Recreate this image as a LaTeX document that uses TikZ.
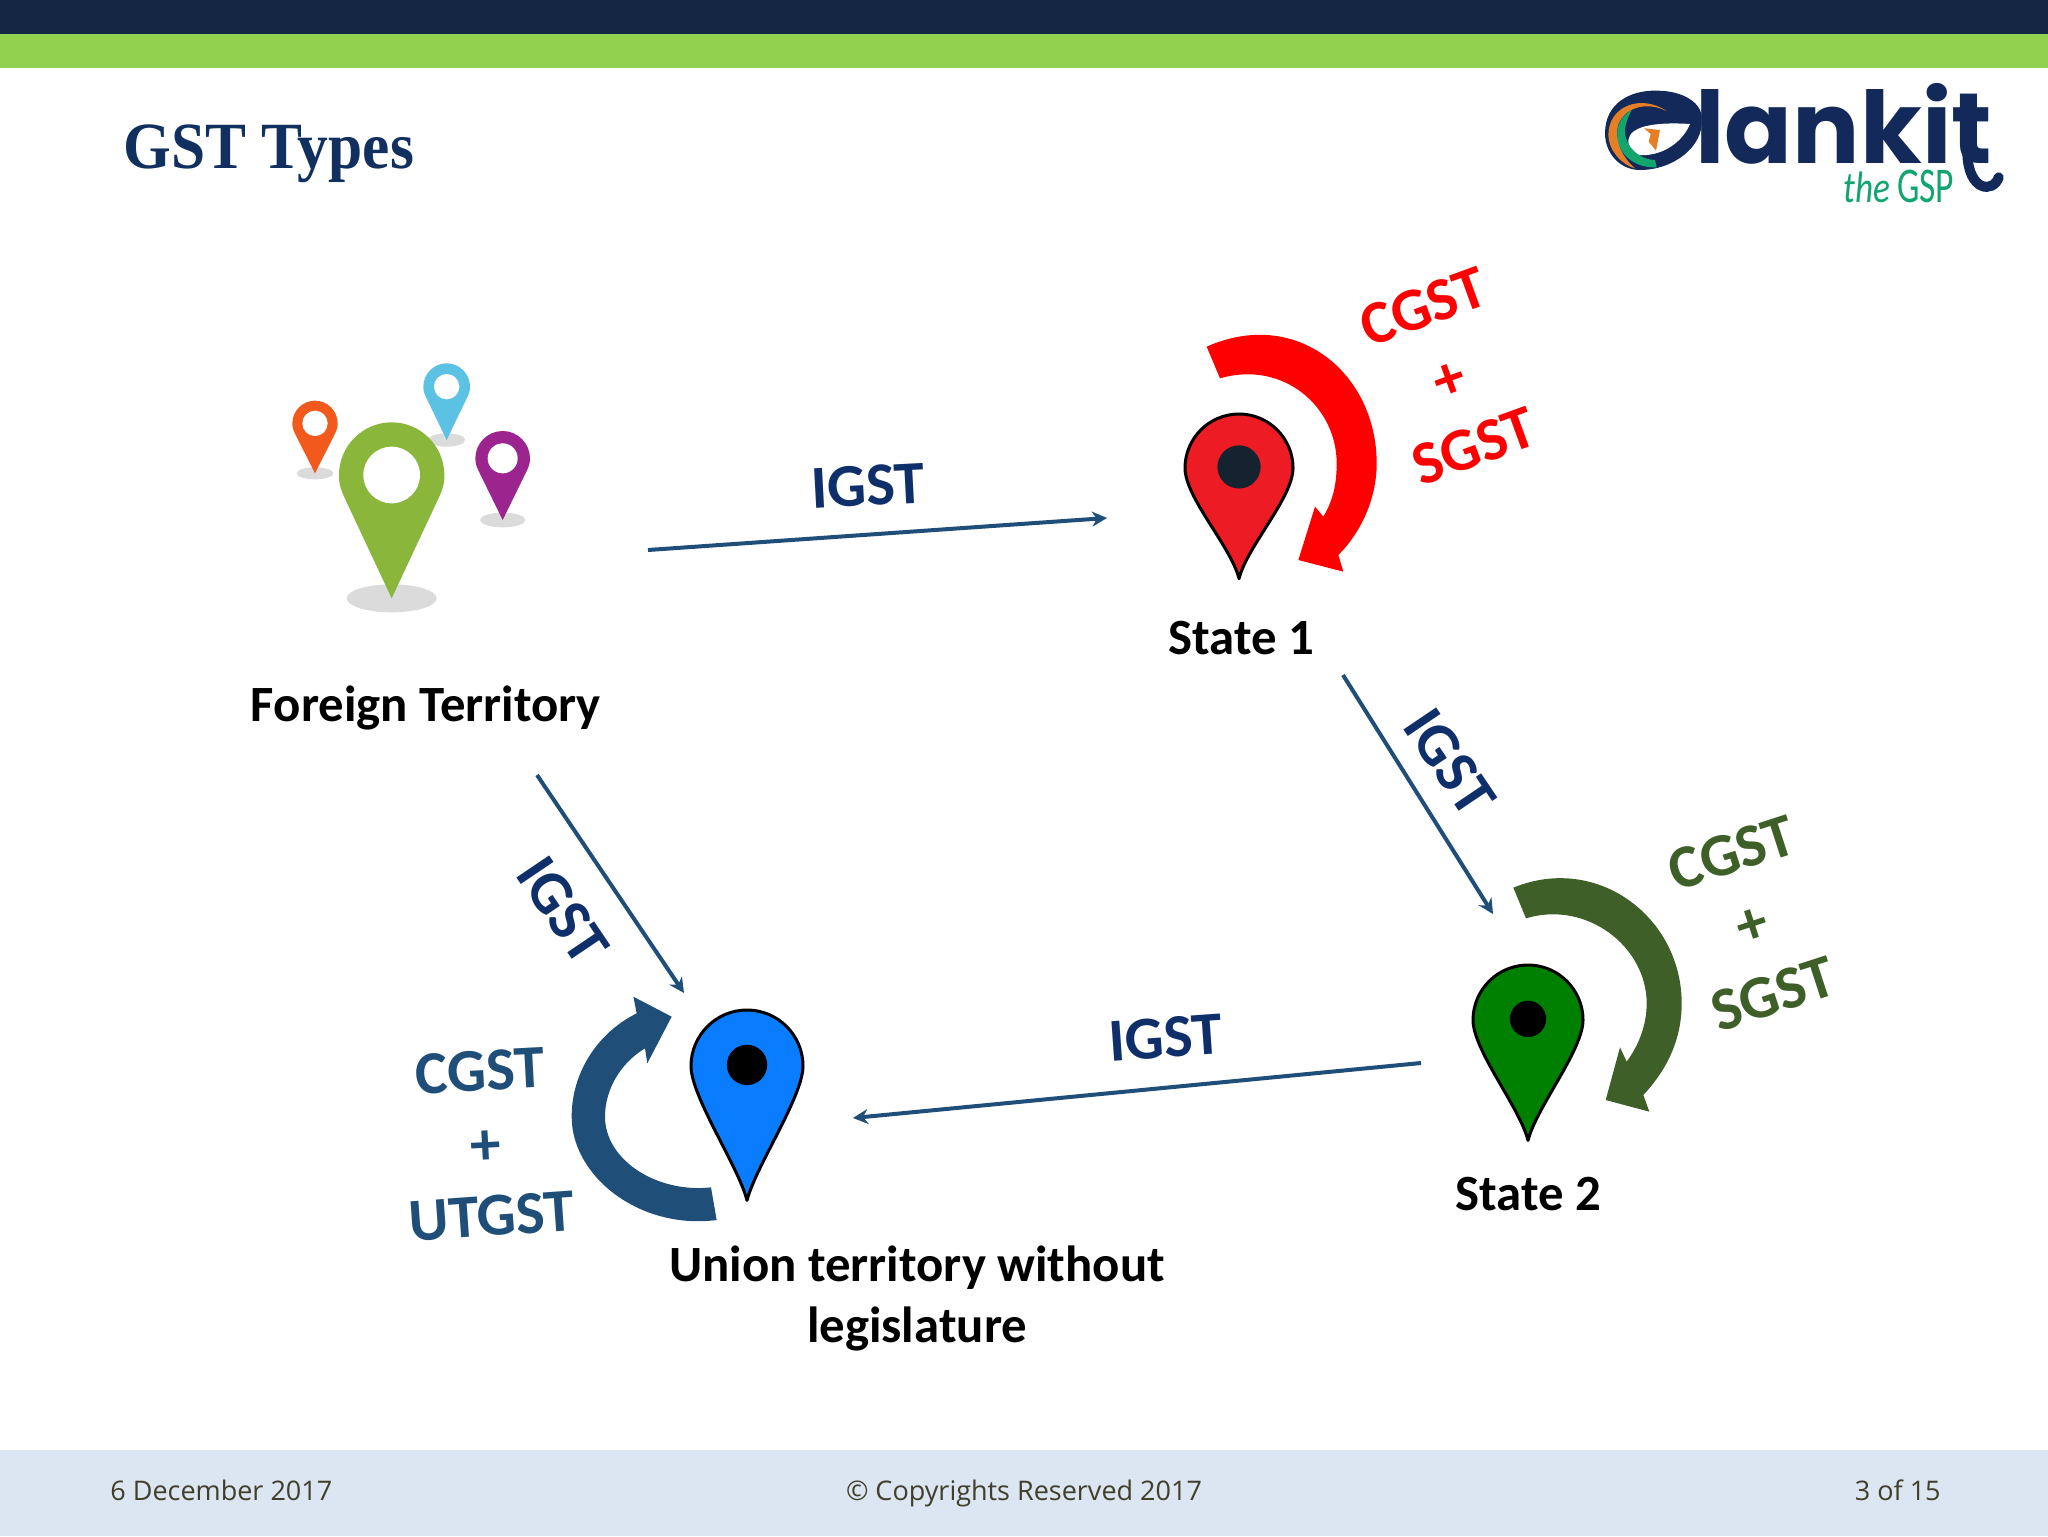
\documentclass[tikz,border=0pt]{standalone}
\usepackage{fontspec}
\setmainfont{Liberation Serif}
\newfontfamily\labelfont{Carlito}
\newfontfamily\footfont{Open Sans}
\newfontfamily\logofont{Poppins}
\usetikzlibrary{arrows.meta}
\definecolor{barnavy}{HTML}{142644}
\definecolor{bargreen}{HTML}{92D050}
\definecolor{footblue}{HTML}{DCE6F2}
\definecolor{foottext}{HTML}{3F3F2A}
\definecolor{titleblue}{HTML}{12305F}
\definecolor{igstblue}{HTML}{0F2F6B}
\definecolor{flowblue}{HTML}{1F4E79}
\definecolor{stategreen}{HTML}{3F5F28}
\definecolor{logonavy}{HTML}{12295A}
\definecolor{logoorange}{HTML}{E57E25}
\definecolor{logogreen}{HTML}{12A56E}
\definecolor{pinred}{HTML}{ED1C24}
\definecolor{pindark}{HTML}{14232F}
\definecolor{pingreen}{HTML}{008000}
\definecolor{pinblue}{HTML}{0A7CFF}
\tikzset{
  statelabel/.style={font=\labelfont\bfseries\fontsize{25.4}{30.5}\selectfont, text=black, align=center},
  igstlabel/.style={font=\labelfont\bfseries\fontsize{30.5}{36}\selectfont, text=igstblue},
  taxlabel/.style={font=\labelfont\bfseries\fontsize{30.5}{36}\selectfont},
  flowarrow/.style={draw=flowblue, line width=2pt, -{Stealth[length=7.5pt, width=7.5pt]}},
  footlabel/.style={font=\footfont\fontsize{13.5}{16}\selectfont, text=foottext, inner sep=0pt},
}
% #1,#2 head centre, #3 radius, #4 tip distance, #5 fill, #6 dot, #7 dot radius
\newcommand{\mappin}[7]{
  \begin{scope}[shift={(#1,#2)}, scale=#3]
    \draw[fill=#5, line width=1.5pt, line join=round] (0,#4) .. controls (-.15,#4-.6) and (-1,.55) .. (-1,0)
      .. controls (-1,-.55) and (-.55,-1) .. (0,-1) .. controls (.55,-1) and (1,-.55) .. (1,0)
      .. controls (1,.55) and (.15,#4-.6) .. (0,#4) -- cycle;
    \fill[#6] (0,-.02) circle (#7);
  \end{scope}
}
\begin{document}
\begin{tikzpicture}[x=.5pt, y=-.5pt]
\useasboundingbox (0,0) rectangle (2048,1536);
\fill[white] (0,0) rectangle (2048,1536);
\fill[barnavy] (0,0) rectangle (2048,34);
\fill[bargreen] (0,34) rectangle (2048,68);
\fill[footblue] (0,1450) rectangle (2048,1536);

\node[anchor=base west, inner sep=0pt, text=titleblue, font=\bfseries\fontsize{33}{36}\selectfont] (title) at (123,168) {\scalebox{.93}[1]{GST Types}};

% logo
\begin{scope}[shift={(1560,60)}, scale=1/3]
  \fill[logonavy] (135,220) .. controls (135,130) and (210,90) .. (290,92) .. controls (370,92) and (430,130) .. (425,180)
    .. controls (430,260) and (340,330) .. (240,330) .. controls (180,330) and (135,280) .. (135,220) -- cycle;
  \fill[white] (205,240) .. controls (210,200) and (280,185) .. (390,192) .. controls (370,240) and (320,280) .. (260,285)
    .. controls (215,290) and (205,270) .. (205,240) -- cycle;
  \fill[logoorange] (320,153) .. controls (240,100) and (145,140) .. (145,225) .. controls (145,270) and (185,315) .. (225,325)
    .. controls (185,290) and (170,250) .. (172,210) .. controls (175,160) and (240,115) .. (320,153) -- cycle;
  \fill[logogreen] (215,150) .. controls (180,170) and (170,200) .. (172,230) .. controls (175,280) and (220,325) .. (290,322)
    -- (285,300) .. controls (240,300) and (195,260) .. (195,215) .. controls (195,190) and (205,170) .. (215,150) -- cycle;
  \fill[logoorange] (252,205) -- (300,210) -- (288,272) -- (266,245) -- (272,222) -- cycle;
  \node[anchor=base west, inner sep=0pt, text=logonavy, font=\logofont\bfseries\fontsize{50}{50}\selectfont] (logoword) at (405,312) {lankit};
  \draw[logonavy, line width=5pt, line cap=round] (1222,280) .. controls (1225,395) and (1300,400) .. (1316,352);
  \node[anchor=base west, inner sep=0pt, text=logogreen, font=\labelfont\itshape\fontsize{22}{22}\selectfont] (logothe) at (850,428) {\scalebox{.8}[1]{the}};
  \node[anchor=base west, inner sep=0pt, text=logogreen, font=\labelfont\fontsize{25}{25}\selectfont] (logogsp) at (1010,428) {\scalebox{.71}[1]{GSP}};
\end{scope}

% foreign territory pins
\begin{scope}[shift={(260,340)}, scale=1/3]
  \foreach \px/\py/\pr/\ph/\pc/\rx/\ry/\hr in {165/250/68/150/F25A1D/55/18/38, 560/140/70/160/5BC2E4/55/20/38, 728/355/82/185/9C248E/68/22/45, 395/405/158/370/8AB63C/135/42/85} {
    \definecolor{pincol}{HTML}{\pc}
    \fill[black!14] (\px,\py+\ph) ellipse ({\rx} and {\ry});
    \fill[pincol] (\px,\py+\ph) -- (\px-.9*\pr,\py+.42*\pr) .. controls (\px-\pr,\py+.2*\pr) and (\px-\pr,\py+.1*\pr) .. (\px-\pr,\py)
      .. controls (\px-\pr,\py-.55*\pr) and (\px-.55*\pr,\py-\pr) .. (\px,\py-\pr) .. controls (\px+.55*\pr,\py-\pr) and (\px+\pr,\py-.55*\pr) .. (\px+\pr,\py)
      .. controls (\px+\pr,\py+.1*\pr) and (\px+\pr,\py+.2*\pr) .. (\px+.9*\pr,\py+.42*\pr) -- cycle;
    \fill[white] (\px,\py) circle (\hr);
  }
\end{scope}

\mappin{1239}{468}{54}{2.05}{pinred}{pindark}{.4}
\mappin{1528}{1020}{55}{2.19}{pingreen}{black}{.33}
\mappin{747}{1066}{56}{2.4}{pinblue}{black}{.36}

% red arc
\begin{scope}[shift={(1150,250)}, scale=1/3]
  \fill[red] (170,290) .. controls (440,170) and (680,370) .. (680,640) .. controls (680,750) and (630,850) .. (565,915)
    -- (580,965) -- (445,930) -- (495,770) -- (520,800) .. controls (550,750) and (560,700) .. (560,640)
    .. controls (560,470) and (400,330) .. (210,385) -- cycle;
\end{scope}
% green arc
\begin{scope}[shift={(1440,790)}, scale=1/3]
  \fill[stategreen] (220,293) .. controls (470,190) and (725,380) .. (725,640) .. controls (725,750) and (680,840) .. (610,915)
    -- (628,965) -- (497,930) -- (540,772) -- (560,815) .. controls (600,760) and (620,700) .. (620,640)
    .. controls (620,470) and (440,330) .. (258,385) -- cycle;
\end{scope}
% blue arc
\begin{scope}[shift={(390,960)}, scale=1/3]
  \fill[flowblue] (980,780) .. controls (750,810) and (545,650) .. (545,470) .. controls (545,340) and (620,220) .. (740,160)
    -- (730,110) -- (845,170) -- (772,310) -- (765,265) .. controls (690,310) and (645,390) .. (645,470)
    .. controls (645,600) and (800,700) .. (963,682) -- cycle;
\end{scope}

\node[statelabel] (foreign) at (426,708) {Foreign Territory};
\node[statelabel] (state1) at (1241,638) {State 1};
\node[statelabel] (state2) at (1528,1194) {State 2};
\node[statelabel] (union) at (917,1298) {Union territory without\\legislature};

\coordinate (a1s) at (648,550);
\coordinate (a1e) at (1107,518);
\coordinate (a2s) at (1343,675);
\coordinate (a2e) at (1493,914);
\coordinate (a3s) at (537,775);
\coordinate (a3e) at (684,993);
\coordinate (a4s) at (1421,1063);
\coordinate (a4e) at (853,1118);
\draw[flowarrow] (a1s) -- (a1e);
\draw[flowarrow] (a2s) -- (a2e);
\draw[flowarrow] (a3s) -- (a3e);
\draw[flowarrow] (a4s) -- (a4e);

\node[igstlabel, rotate=3] (igst1) at (868,486) {IGST};
\node[igstlabel, rotate=-56] (igst2) at (1450,762) {IGST};
\node[igstlabel, rotate=-56] (igst3) at (563,910) {IGST};
\node[igstlabel, rotate=4] (igst4) at (1166,1038) {IGST};

\node[taxlabel, text=red, rotate=20] (cgst1) at (1423,307) {CGST};
\node[taxlabel, text=red, rotate=20] (plus1) at (1450,381) {+};
\node[taxlabel, text=red, rotate=20] (sgst1) at (1474,446) {SGST};
\node[taxlabel, text=stategreen, rotate=18] (cgst2) at (1732,853) {CGST};
\node[taxlabel, text=stategreen, rotate=18] (plus2) at (1753,927) {+};
\node[taxlabel, text=stategreen, rotate=18] (sgst2) at (1773,994) {SGST};
\node[taxlabel, text=flowblue, rotate=3] (cgst3) at (480,1071) {CGST};
\node[taxlabel, text=flowblue, rotate=3] (plus3) at (486,1148) {+};
\node[taxlabel, text=flowblue, rotate=4] (utgst) at (492,1216) {UTGST};

\node[footlabel, anchor=base west] (date) at (110,1500) {6 December 2017};
\node[footlabel, anchor=base] (copyright) at (1024,1500) {© Copyrights Reserved 2017};
\node[footlabel, anchor=base east] (pageno) at (1941,1500) {3 of 15};
\end{tikzpicture}
\end{document}
